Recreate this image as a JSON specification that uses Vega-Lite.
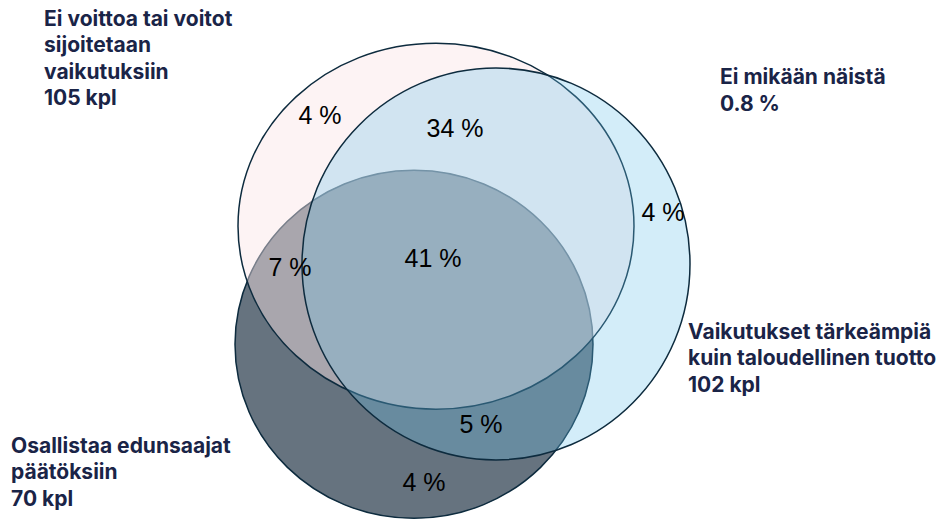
{
  "$schema": "https://vega.github.io/schema/vega-lite/v6.json",
  "width": 944,
  "height": 520,
  "autosize": {"type": "fit", "contains": "padding"},
  "padding": 0,
  "background": "white",
  "view": {"stroke": null},
  "datasets": {
    "sets": [
      {"set": "Osallistaa edunsaajat päätöksiin", "cx": 414, "cy": 347},
      {"set": "Ei voittoa tai voitot sijoitetaan vaikutuksiin", "cx": 436, "cy": 228},
      {"set": "Vaikutukset tärkeämpiä kuin taloudellinen tuotto", "cx": 496, "cy": 266}
    ],
    "regions": [
      {"label": "4 %", "x": 320, "y": 117},
      {"label": "34 %", "x": 455, "y": 130},
      {"label": "4 %", "x": 663, "y": 215},
      {"label": "7 %", "x": 290, "y": 270},
      {"label": "41 %", "x": 433, "y": 261},
      {"label": "5 %", "x": 481, "y": 428},
      {"label": "4 %", "x": 424, "y": 487}
    ],
    "titles": [
      {"text": "Ei voittoa tai voitot\nsijoitetaan\nvaikutuksiin\n105 kpl", "x": 44, "y": 9},
      {"text": "Ei mikään näistä\n0.8 %", "x": 720, "y": 68},
      {"text": "Vaikutukset tärkeämpiä\nkuin taloudellinen tuotto\n102 kpl", "x": 688, "y": 324},
      {"text": "Osallistaa edunsaajat\npäätöksiin\n70 kpl", "x": 11, "y": 439}
    ]
  },
  "layer": [
    {
      "data": {"name": "sets"},
      "transform": [{"filter": "datum.set === 'Osallistaa edunsaajat päätöksiin'"}],
      "mark": {"type": "point", "filled": true, "opacity": 1, "fill": "#66737F", "fillOpacity": 1, "stroke": "#0D2B3E", "strokeWidth": 1.5, "strokeOpacity": 1, "size": 128164, "shape": "M-1,0A1,0.972,0,1,0,1,0A1,0.972,0,1,0,-1,0Z"},
      "encoding": {
        "x": {"field": "cx", "type": "quantitative", "scale": {"domain": [0, 944]}, "axis": null},
        "y": {"field": "cy", "type": "quantitative", "scale": {"domain": [0, 520], "reverse": true}, "axis": null}
      }
    },
    {
      "data": {"name": "sets"},
      "transform": [{"filter": "datum.set === 'Ei voittoa tai voitot sijoitetaan vaikutuksiin'"}],
      "mark": {"type": "point", "filled": true, "opacity": 1, "fill": "#FBE5E7", "fillOpacity": 0.45, "stroke": "#0D2B3E", "strokeWidth": 1.5, "strokeOpacity": 1, "size": 156816, "shape": "M-1,0A1,0.924,0,1,0,1,0A1,0.924,0,1,0,-1,0Z"},
      "encoding": {
        "x": {"field": "cx", "type": "quantitative", "scale": {"domain": [0, 944]}, "axis": null},
        "y": {"field": "cy", "type": "quantitative", "scale": {"domain": [0, 520], "reverse": true}, "axis": null}
      }
    },
    {
      "data": {"name": "sets"},
      "transform": [{"filter": "datum.set === 'Vaikutukset tärkeämpiä kuin taloudellinen tuotto'"}],
      "mark": {"type": "point", "filled": true, "opacity": 1, "fill": "#6CC2EA", "fillOpacity": 0.3, "stroke": "#0D2B3E", "strokeWidth": 1.5, "strokeOpacity": 1, "size": 150544, "shape": "M-1,0A1,1.01,0,1,0,1,0A1,1.01,0,1,0,-1,0Z"},
      "encoding": {
        "x": {"field": "cx", "type": "quantitative", "scale": {"domain": [0, 944]}, "axis": null},
        "y": {"field": "cy", "type": "quantitative", "scale": {"domain": [0, 520], "reverse": true}, "axis": null}
      }
    },
    {
      "data": {"name": "regions"},
      "mark": {"type": "text", "font": "Liberation Sans", "fontSize": 25, "color": "#000000", "align": "center", "baseline": "middle"},
      "encoding": {
        "x": {"field": "x", "type": "quantitative", "scale": {"domain": [0, 944]}, "axis": null},
        "y": {"field": "y", "type": "quantitative", "scale": {"domain": [0, 520], "reverse": true}, "axis": null},
        "text": {"field": "label"}
      }
    },
    {
      "data": {"name": "titles"},
      "mark": {"type": "text", "font": "Inter", "fontWeight": "bold", "fontSize": 21, "color": "#1A2447", "align": "left", "baseline": "top", "lineBreak": "\n", "lineHeight": 26.5},
      "encoding": {
        "x": {"field": "x", "type": "quantitative", "scale": {"domain": [0, 944]}, "axis": null},
        "y": {"field": "y", "type": "quantitative", "scale": {"domain": [0, 520], "reverse": true}, "axis": null},
        "text": {"field": "text"}
      }
    }
  ]
}
